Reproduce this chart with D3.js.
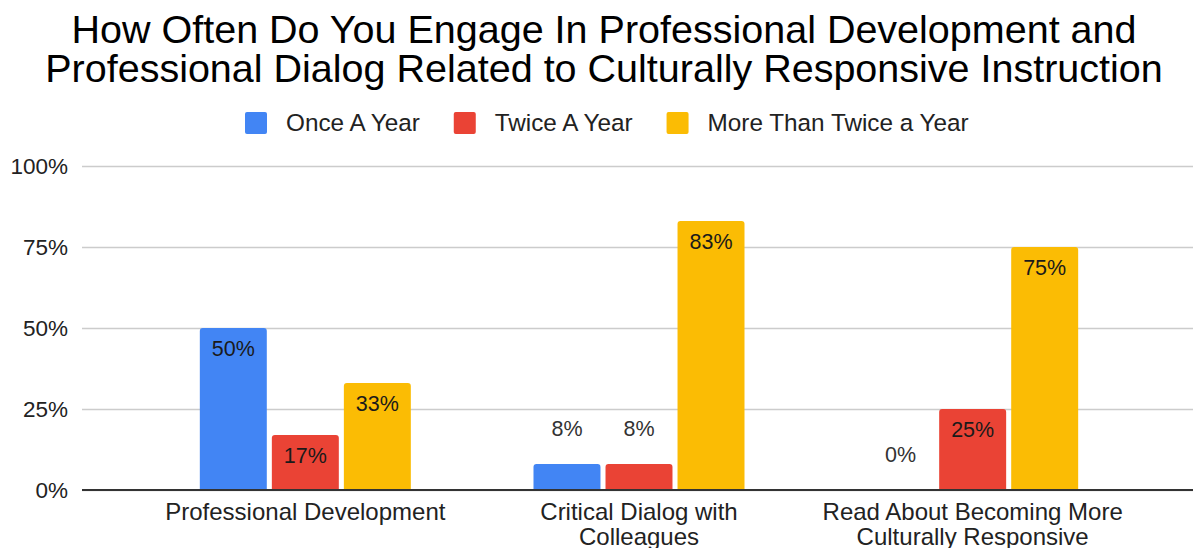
<!DOCTYPE html>
<html>
<head>
<meta charset="utf-8">
<script src="https://cdn.jsdelivr.net/npm/d3@7/dist/d3.min.js"></script>
<style>
  html, body { margin: 0; padding: 0; background: #fff; }
  svg { display: block; font-family: "Liberation Sans", Arial, Helvetica, sans-serif; }
</style>
</head>
<body>
<svg id="chart" width="1193" height="548"></svg>
<script>
// Survey results: share of respondents by frequency of engagement
const titleLines = [
  "How Often Do You Engage In Professional Development and",
  "Professional Dialog Related to Culturally Responsive Instruction"
];
const categories = [
  "Professional Development",
  "Critical Dialog with Colleagues",
  "Read About Becoming More Culturally Responsive"
];
const seriesNames = ["Once A Year", "Twice A Year", "More Than Twice a Year"];
const seriesColors = ["#4285F4", "#EA4335", "#FBBC04"];
const onceAYear = [0.50, 0.08, 0.00];
const twiceAYear = [0.17, 0.08, 0.25];
const moreThanTwice = [0.33, 0.83, 0.75];
const yTicks = [0, 0.25, 0.5, 0.75, 1];

const seriesValues = [onceAYear, twiceAYear, moreThanTwice];
const rows = categories.map((c, i) => ({
  category: c,
  values: seriesNames.map((s, j) => ({ series: s, value: seriesValues[j][i], color: seriesColors[j] }))
}));

const svg = d3.select("#chart");
const plotLeft = 82, plotRight = 1193;

const y = d3.scaleLinear().domain([0, 1]).range([490, 166]);
const x0 = d3.scaleBand().domain(categories).range([138.5, 1139.5])
  .paddingInner(0.3676).paddingOuter(0.1838);
const x1 = d3.scaleBand().domain(seriesNames).range([0, x0.bandwidth()]).paddingInner(0.07);
const pct = d3.format(".0%");

// Title
svg.append("text")
  .attr("x", 604).attr("y", 43)
  .attr("text-anchor", "middle")
  .attr("font-size", 39.5).attr("fill", "#000")
  .selectAll("tspan").data(titleLines).join("tspan")
  .attr("x", 604).attr("dy", (d, i) => i === 0 ? 0 : 39)
  .text(d => d);

// Legend
const legend = svg.append("g").attr("transform", "translate(245,112)");
let lx = 0;
seriesNames.forEach((name, i) => {
  const g = legend.append("g").attr("transform", `translate(${lx},0)`);
  g.append("rect").attr("width", 22).attr("height", 22).attr("rx", 2)
    .attr("fill", seriesColors[i]);
  const t = g.append("text").attr("x", 41).attr("y", 19)
    .attr("font-size", 24.3).attr("fill", "#222").text(name);
  lx += 41 + t.node().getComputedTextLength() + 34;
});

// Gridlines and y tick labels
const yAxis = d3.axisLeft(y).tickValues(yTicks).tickFormat(pct)
  .tickSize(-(plotRight - plotLeft)).tickPadding(14);
const ga = svg.append("g").attr("transform", `translate(${plotLeft},0)`).call(yAxis);
ga.select(".domain").remove();
ga.selectAll(".tick line").attr("stroke", "#cccccc").attr("stroke-width", 1.5);
ga.selectAll(".tick text").attr("font-size", 22.5).attr("fill", "#222")
  .attr("font-family", "\"Liberation Sans\", Arial, sans-serif");

// Bars with slightly rounded top corners
function barPath(x, top, w, bottom, r) {
  const h = bottom - top;
  if (h <= 0) return "";
  const rr = Math.min(r, h, w / 2);
  return `M${x},${bottom}V${top + rr}Q${x},${top} ${x + rr},${top}H${x + w - rr}Q${x + w},${top} ${x + w},${top + rr}V${bottom}Z`;
}

const groups = svg.append("g").selectAll("g").data(rows).join("g")
  .attr("transform", d => `translate(${x0(d.category)},0)`);

groups.selectAll("path").data(d => d.values).join("path")
  .attr("d", d => barPath(x1(d.series), y(d.value), x1.bandwidth(), y(0), 3))
  .attr("fill", d => d.color);

// Value labels: inside the bar top when it fits, above otherwise
groups.selectAll("text.val").data(d => d.values).join("text")
  .attr("class", "val")
  .attr("x", d => x1(d.series) + x1.bandwidth() / 2)
  .attr("y", d => (y(0) - y(d.value) > 40) ? y(d.value) + 28 : y(d.value) - 28)
  .attr("text-anchor", "middle")
  .attr("font-size", 21.5)
  .attr("fill", d => (y(0) - y(d.value) > 40) ? "#1a1a1a" : "#333")
  .text(d => pct(d.value));

// Baseline
svg.append("line")
  .attr("x1", plotLeft).attr("x2", plotRight)
  .attr("y1", y(0)).attr("y2", y(0))
  .attr("stroke", "#333").attr("stroke-width", 1.8);

// Category labels, wrapped to fit
const maxLabelWidth = 320;
const xl = svg.append("g");
categories.forEach(c => {
  const cx = x0(c) + x0.bandwidth() / 2;
  const text = xl.append("text").attr("x", cx).attr("y", 520)
    .attr("text-anchor", "middle").attr("font-size", 24).attr("fill", "#222");
  const words = c.split(" ");
  let line = [];
  let tspan = text.append("tspan").attr("x", cx).attr("dy", 0);
  words.forEach(w => {
    line.push(w);
    tspan.text(line.join(" "));
    if (tspan.node().getComputedTextLength() > maxLabelWidth && line.length > 1) {
      line.pop();
      tspan.text(line.join(" "));
      line = [w];
      tspan = text.append("tspan").attr("x", cx).attr("dy", 25).text(w);
    }
  });
});
</script>
</body>
</html>
